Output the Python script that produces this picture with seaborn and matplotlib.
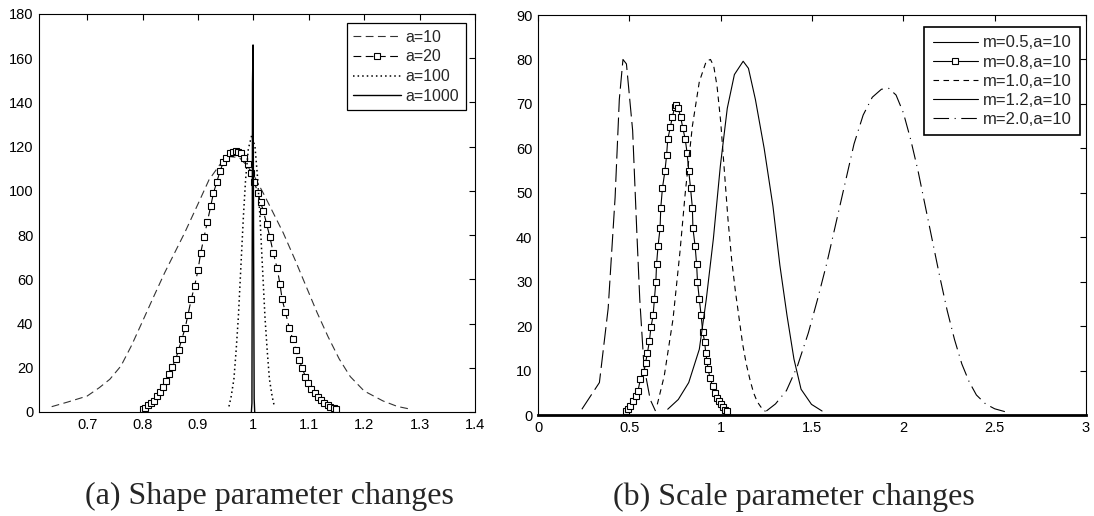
import matplotlib
matplotlib.use("Agg")
import matplotlib.pyplot as plt
import seaborn as sns
from matplotlib.lines import Line2D

# (a) shape parameter changes
a10_x = [0.636, 0.665, 0.700, 0.722, 0.741, 0.761, 0.780, 0.800, 0.818, 0.840, 0.858,
         0.876, 0.900, 0.920, 0.940, 0.958, 0.975, 0.990, 1.003, 1.020, 1.040, 1.054,
         1.075, 1.100, 1.115, 1.135, 1.155, 1.175, 1.200, 1.234, 1.260, 1.285]
a10_y = [2.4, 4.5, 7.2, 11, 14.8, 20.8, 30, 41, 51, 63, 72,
         81, 94, 105, 112, 115.5, 115, 111, 106, 98, 88, 81,
         69, 54, 45, 34, 24, 16, 9.5, 5, 2.5, 1.2]

a20_x = [0.800, 0.805, 0.810, 0.815, 0.820, 0.826, 0.831, 0.837, 0.843, 0.848, 0.854,
         0.860, 0.865, 0.871, 0.877, 0.882, 0.888, 0.894, 0.900, 0.905, 0.911, 0.917,
         0.923, 0.928, 0.934, 0.940, 0.946, 0.951, 0.957, 0.963, 0.968, 0.973, 0.978,
         0.984, 0.990, 0.996, 1.002, 1.008, 1.013, 1.018, 1.024, 1.030, 1.036, 1.043,
         1.048, 1.052, 1.058, 1.065, 1.071, 1.077, 1.083, 1.088, 1.094, 1.099, 1.105,
         1.111, 1.117, 1.122, 1.128, 1.134, 1.139, 1.145, 1.150]
a20_y = [1.5, 2, 3, 4, 5, 7, 9, 11.5, 14, 17, 20.5,
         24, 28, 33, 38, 44, 51, 57, 64, 72, 79, 86,
         93, 99, 104, 109, 113, 115, 117, 117.5, 118, 117.5, 117,
         115, 112, 108, 104, 99, 95, 91, 85, 79, 72, 65,
         58, 51, 45, 38, 33, 28, 23.5, 20, 16, 13, 10.5,
         8.5, 6.8, 5.3, 4, 3, 2.4, 1.8, 1.4]

a100_x = [0.956, 0.960, 0.965, 0.969, 0.973, 0.976, 0.979, 0.982, 0.986, 0.991, 0.997,
          1.003, 1.008, 1.012, 1.015, 1.018, 1.021, 1.025, 1.029, 1.034, 1.038]
a100_y = [2.5, 7, 15, 28, 43, 58, 73, 88, 105, 119, 125,
          120, 105, 88, 73, 58, 43, 28, 15, 7, 2.5]

a1000_x = [0.9965, 0.9975, 0.9985, 0.9995, 1.0005, 1.0015, 1.0025]
a1000_y = [0, 4, 149, 166, 75, 6, 0]

# (b) scale parameter changes
m05_x = [0.240, 0.336, 0.384, 0.422, 0.445, 0.465, 0.484, 0.518, 0.541, 0.557, 0.580, 0.614, 0.643]
m05_y = [1.3, 7.3, 24, 49, 71, 80, 79, 64, 41, 26, 11, 3.5, 0.9]

m08_x = [0.480, 0.493, 0.503, 0.518, 0.534, 0.547, 0.560, 0.580, 0.589, 0.599, 0.610,
         0.618, 0.630, 0.637, 0.645, 0.649, 0.657, 0.668, 0.672, 0.681, 0.695, 0.704,
         0.710, 0.724, 0.735, 0.749, 0.758, 0.768, 0.781, 0.793, 0.806, 0.816, 0.825,
         0.835, 0.845, 0.848, 0.860, 0.868, 0.873, 0.883, 0.893, 0.902, 0.912, 0.918,
         0.925, 0.931, 0.941, 0.956, 0.969, 0.979, 0.992, 1.002, 1.013, 1.023, 1.033]
m08_y = [0.9, 1.4, 2, 3.2, 4.3, 5.4, 8, 9.7, 11.8, 14, 16.7,
         19.7, 22.4, 26, 30, 34, 38, 42, 46.6, 51, 55, 58.5,
         62, 64.7, 67, 69.4, 69.7, 69, 67, 64.5, 62, 59, 55,
         51, 46.6, 42, 38, 34, 30, 26, 22.4, 18.6, 16.5, 14,
         12.2, 10.3, 8.4, 6.5, 5, 3.9, 3.2, 2.4, 1.7, 1.1, 0.8]

m10_x = [0.653, 0.691, 0.739, 0.777, 0.806, 0.845, 0.883, 0.921, 0.944, 0.962, 0.980,
         1.000, 1.020, 1.040, 1.060, 1.080, 1.100, 1.120, 1.140, 1.160, 1.180, 1.200,
         1.220, 1.245]
m10_y = [2.4, 8.8, 21.6, 36.7, 50, 65, 75, 79.6, 80, 78.5, 74,
         66, 55, 44, 35, 28, 22, 16, 11.5, 8, 5, 3,
         1.8, 0.8]

m12_x = [0.710, 0.768, 0.825, 0.883, 0.921, 0.960, 0.998, 1.036, 1.075, 1.123, 1.152,
         1.190, 1.238, 1.286, 1.324, 1.363, 1.401, 1.440, 1.497, 1.555]
m12_y = [1.3, 3.5, 7.3, 14.8, 26, 39.7, 56, 69, 76.6, 79.6, 78,
         71, 60, 47, 33.7, 22.4, 12.6, 5.8, 2.4, 0.9]

m20_x = [1.25, 1.30, 1.36, 1.42, 1.48, 1.53, 1.58, 1.63, 1.68, 1.73, 1.78, 1.83, 1.88,
         1.92, 1.96, 2.00, 2.04, 2.08, 2.12, 2.16, 2.20, 2.24, 2.28, 2.32, 2.36, 2.40,
         2.45, 2.50, 2.57]
m20_y = [0.9, 2.5, 5.5, 11, 18.5, 26, 34, 43, 52, 61, 67.5, 71.5, 73.3,
         73.5, 72, 68, 62, 55, 47, 39, 31, 23.5, 17, 11.5, 7.5, 4.5,
         2.5, 1.4, 0.6]

a_labels = ["a=10", "a=20", "a=100", "a=1000"]
m_labels = ["m=0.5,a=10", "m=0.8,a=10", "m=1.0,a=10", "m=1.2,a=10", "m=2.0,a=10"]

sns.set_style("white")
plt.rcParams["font.family"] = ["Liberation Sans", "DejaVu Sans"]

fig = plt.figure(figsize=(10.94, 5.16), dpi=100)
ax1 = fig.add_axes([0.0356, 0.2016, 0.3985, 0.7713])
ax2 = fig.add_axes([0.4918, 0.1957, 0.5009, 0.7752])

# left panel
sq1 = dict(marker="s", markersize=5, markerfacecolor="white",
           markeredgecolor="black", markeredgewidth=0.8)
sq2 = dict(sq1, markersize=4.2)
sns.lineplot(x=a10_x, y=a10_y, ax=ax1, color="#333333", lw=0.8,
             linestyle=(0, (7, 4)), label=a_labels[0])
sns.lineplot(x=a20_x, y=a20_y, ax=ax1, color="black", lw=0.8,
             linestyle=(0, (7, 4)), label=a_labels[1], **sq1)
sns.lineplot(x=a100_x, y=a100_y, ax=ax1, color="black", lw=1.1,
             linestyle=(0, (1, 2)), label=a_labels[2])
sns.lineplot(x=a1000_x, y=a1000_y, ax=ax1, color="black", lw=1.0,
             label=a_labels[3])

ax1.set_xlim(0.613, 1.4)
ax1.set_ylim(0, 180)
ax1.set_xticks([0.7, 0.8, 0.9, 1.0, 1.1, 1.2, 1.3, 1.4])
ax1.set_xticklabels(["0.7", "0.8", "0.9", "1", "1.1", "1.2", "1.3", "1.4"])
ax1.set_yticks(range(0, 181, 20))
ax1.legend(loc="upper right", bbox_to_anchor=(0.979, 0.977), borderaxespad=0,
           fontsize=11.5, handlelength=3.0, handletextpad=0.3, labelspacing=0.3,
           borderpad=0.4, fancybox=False, edgecolor="black", framealpha=1)

# right panel
sns.lineplot(x=m05_x, y=m05_y, ax=ax2, color="black", lw=0.8, linestyle=(0, (16, 5)))
sns.lineplot(x=m08_x, y=m08_y, ax=ax2, color="black", lw=0.8, **sq2)
sns.lineplot(x=m10_x, y=m10_y, ax=ax2, color="black", lw=0.8, linestyle=(0, (5, 4)))
sns.lineplot(x=m12_x, y=m12_y, ax=ax2, color="black", lw=0.8)
sns.lineplot(x=m20_x, y=m20_y, ax=ax2, color="black", lw=0.8,
             linestyle=(0, (14, 5, 1, 5)))

ax2.set_xlim(0, 3)
ax2.set_ylim(0, 90)
ax2.set_xticks([0, 0.5, 1, 1.5, 2, 2.5, 3])
ax2.set_xticklabels(["0", "0.5", "1", "1.5", "2", "2.5", "3"])
ax2.set_yticks(range(0, 91, 10))

handles = [
    Line2D([], [], color="black", lw=0.8),
    Line2D([], [], color="black", lw=0.8, **sq2),
    Line2D([], [], color="black", lw=0.8, linestyle=(0, (5, 4))),
    Line2D([], [], color="black", lw=0.8),
    Line2D([], [], color="black", lw=0.8, linestyle=(0, (14, 5, 1, 5))),
]
ax2.legend(handles, m_labels, loc="upper right", bbox_to_anchor=(0.989, 0.97),
           borderaxespad=0, fontsize=12, handlelength=2.7, handletextpad=0.3,
           labelspacing=0.25, borderpad=0.5, fancybox=False, edgecolor="black",
           framealpha=1)

for ax in (ax1, ax2):
    ax.tick_params(direction="in", top=True, right=True, length=4, width=0.8,
                   labelsize=10.5, colors="black", pad=4)
    ax.set_xlabel("")
    ax.set_ylabel("")
    for s in ax.spines.values():
        s.set_visible(True)
        s.set_color("black")
        s.set_linewidth(0.8)
ax2.spines["bottom"].set_linewidth(2)
ax1.legend_.get_frame().set_linewidth(0.9)
ax2.legend_.get_frame().set_linewidth(1.2)

cap = dict(family=["Liberation Serif", "DejaVu Serif"], fontsize=23, ha="center", va="center")
fig.text(0.246, 0.037, "(a) Shape parameter changes", **cap)
fig.text(0.726, 0.037, "(b) Scale parameter changes", **cap)

fig.savefig("out.png", dpi=100)
